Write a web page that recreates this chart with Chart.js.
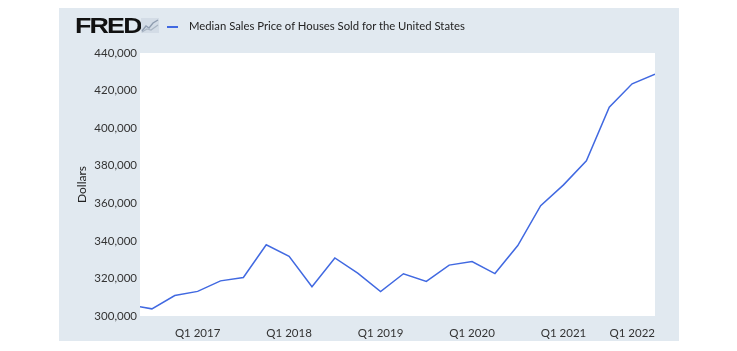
<!DOCTYPE html>
<html>
<head>
<meta charset="utf-8">
<script src="https://cdn.jsdelivr.net/npm/chart.js@4.4.1/dist/chart.umd.min.js"></script>
<style>
  html, body { margin: 0; padding: 0; background: #fff; }
  body { width: 737px; height: 351px; position: relative; overflow: hidden; font-family: Lato, sans-serif; }
  #panel { position: absolute; left: 59px; top: 8px; width: 620px; height: 333px; background: #e1e9f0; }
  #wrap { position: absolute; left: 0; top: 0; width: 620px; height: 333px; }
  .logo { position: absolute; left: 16px; top: 5px; font-family: "Liberation Sans", Arial, sans-serif; font-weight: bold; font-size: 22px; line-height: 26px; letter-spacing: -1.5px; color: #111; transform: scaleX(1.22); transform-origin: left center; }
  .icon { position: absolute; left: 82px; top: 10px; }
  .swatch { position: absolute; left: 108px; top: 18px; width: 11px; height: 2px; background: #4169e1; }
  .title { position: absolute; left: 130px; top: 10px; font-size: 11.3px; line-height: 16px; color: #222; white-space: nowrap; }
</style>
</head>
<body>
<div id="panel">
  <div id="wrap"><canvas id="c"></canvas></div>
  <span class="logo">FRED</span>
  <svg class="icon" width="18" height="15" viewBox="0 0 18 15">
    <rect x="0" y="0" width="18" height="15" fill="#d3dce6"/>
    <polyline points="1,13 5,8 8,10 12,5 17,2" fill="none" stroke="#8f9db0" stroke-width="1.4"/>
    <polyline points="1,14 6,11 10,12 17,7" fill="none" stroke="#aab6c4" stroke-width="1.2"/>
  </svg>
  <span class="swatch"></span>
  <span class="title">Median Sales Price of Houses Sold for the United States</span>
</div>
<script>
// quarters, 2016Q2 .. 2022Q1
const quarters = ["2016Q2", "2016Q3", "2016Q4", "2017Q1", "2017Q2", "2017Q3", "2017Q4",
  "2018Q1", "2018Q2", "2018Q3", "2018Q4", "2019Q1", "2019Q2", "2019Q3", "2019Q4",
  "2020Q1", "2020Q2", "2020Q3", "2020Q4", "2021Q1", "2021Q2", "2021Q3", "2021Q4", "2022Q1"];
const prices = [306000, 303800, 310900, 313100, 318700, 320500, 337900,
  331800, 315600, 330900, 322800, 313000, 322500, 318400, 327100,
  329000, 322600, 337500, 358700, 369800, 382600, 411200, 423600, 428700];
const tickQuarters = ["2017Q1", "2018Q1", "2019Q1", "2020Q1", "2021Q1", "2022Q1"];
const yTicks = [300000, 320000, 340000, 360000, 380000, 400000, 420000, 440000];

const points = prices.map((v, i) => ({ x: i, y: v }));
const tickIdx = tickQuarters.map(q => quarters.indexOf(q));

// white plot area
const plotBg = {
  id: "plotBg",
  beforeDraw(chart) {
    const a = chart.chartArea, ctx = chart.ctx;
    ctx.save();
    ctx.fillStyle = "#ffffff";
    ctx.fillRect(a.left, a.top, a.right - a.left, a.bottom - a.top);
    ctx.restore();
  }
};

// last x label sits flush with the right edge, like FRED
const lastLabelRight = {
  id: "lastLabelRight",
  beforeDraw(chart) {
    const items = chart.scales.x.getLabelItems(chart.chartArea);
    const last = items[items.length - 1];
    if (last && last.options) {
      last.options.textAlign = "right";
      if (last.options.translation) last.options.translation[0] = chart.chartArea.right;
    }
  }
};

new Chart(document.getElementById("c"), {
  type: "line",
  data: {
    datasets: [{
      label: "Median Sales Price of Houses Sold for the United States",
      data: points,
      borderColor: "#4169e1",
      borderWidth: 1.5,
      pointRadius: 0,
      tension: 0,
      fill: false
    }]
  },
  options: {
    responsive: true,
    maintainAspectRatio: false,
    animation: false,
    layout: { padding: { top: 45, right: 24, left: 0, bottom: 0 } },
    plugins: { legend: { display: false }, tooltip: { enabled: false } },
    scales: {
      x: {
        type: "linear",
        min: 0.48,
        max: quarters.length - 1,
        grid: { display: false, drawTicks: false },
        border: { display: false },
        afterBuildTicks: (s) => { s.ticks = tickIdx.map(v => ({ value: v })); },
        afterFit: (s) => { s.height = 25; s.paddingLeft = 0; s.paddingRight = 0; },
        ticks: {
          padding: 10,
          maxRotation: 0,
          autoSkip: false,
          color: "#333",
          font: { family: "Lato", size: 11.5 },
          callback: (v) => { const q = quarters[Math.round(v)]; return q ? "Q1 " + q.slice(0, 4) : ""; }
        }
      },
      y: {
        min: 300000,
        max: 440000,
        grid: { display: false, drawTicks: false },
        border: { display: false },
        afterBuildTicks: (s) => { s.ticks = yTicks.map(v => ({ value: v })); },
        afterFit: (s) => { s.width = 81; s.paddingTop = 0; s.paddingBottom = 0; },
        title: {
          display: true,
          text: "Dollars",
          color: "#222",
          font: { family: "Lato", size: 12 },
          padding: { top: 16, bottom: 0 }
        },
        ticks: {
          padding: 3,
          color: "#333",
          font: { family: "Lato", size: 11.5 },
          callback: (v) => v.toLocaleString("en-US")
        }
      }
    }
  },
  plugins: [plotBg, lastLabelRight]
});
</script>
</body>
</html>
